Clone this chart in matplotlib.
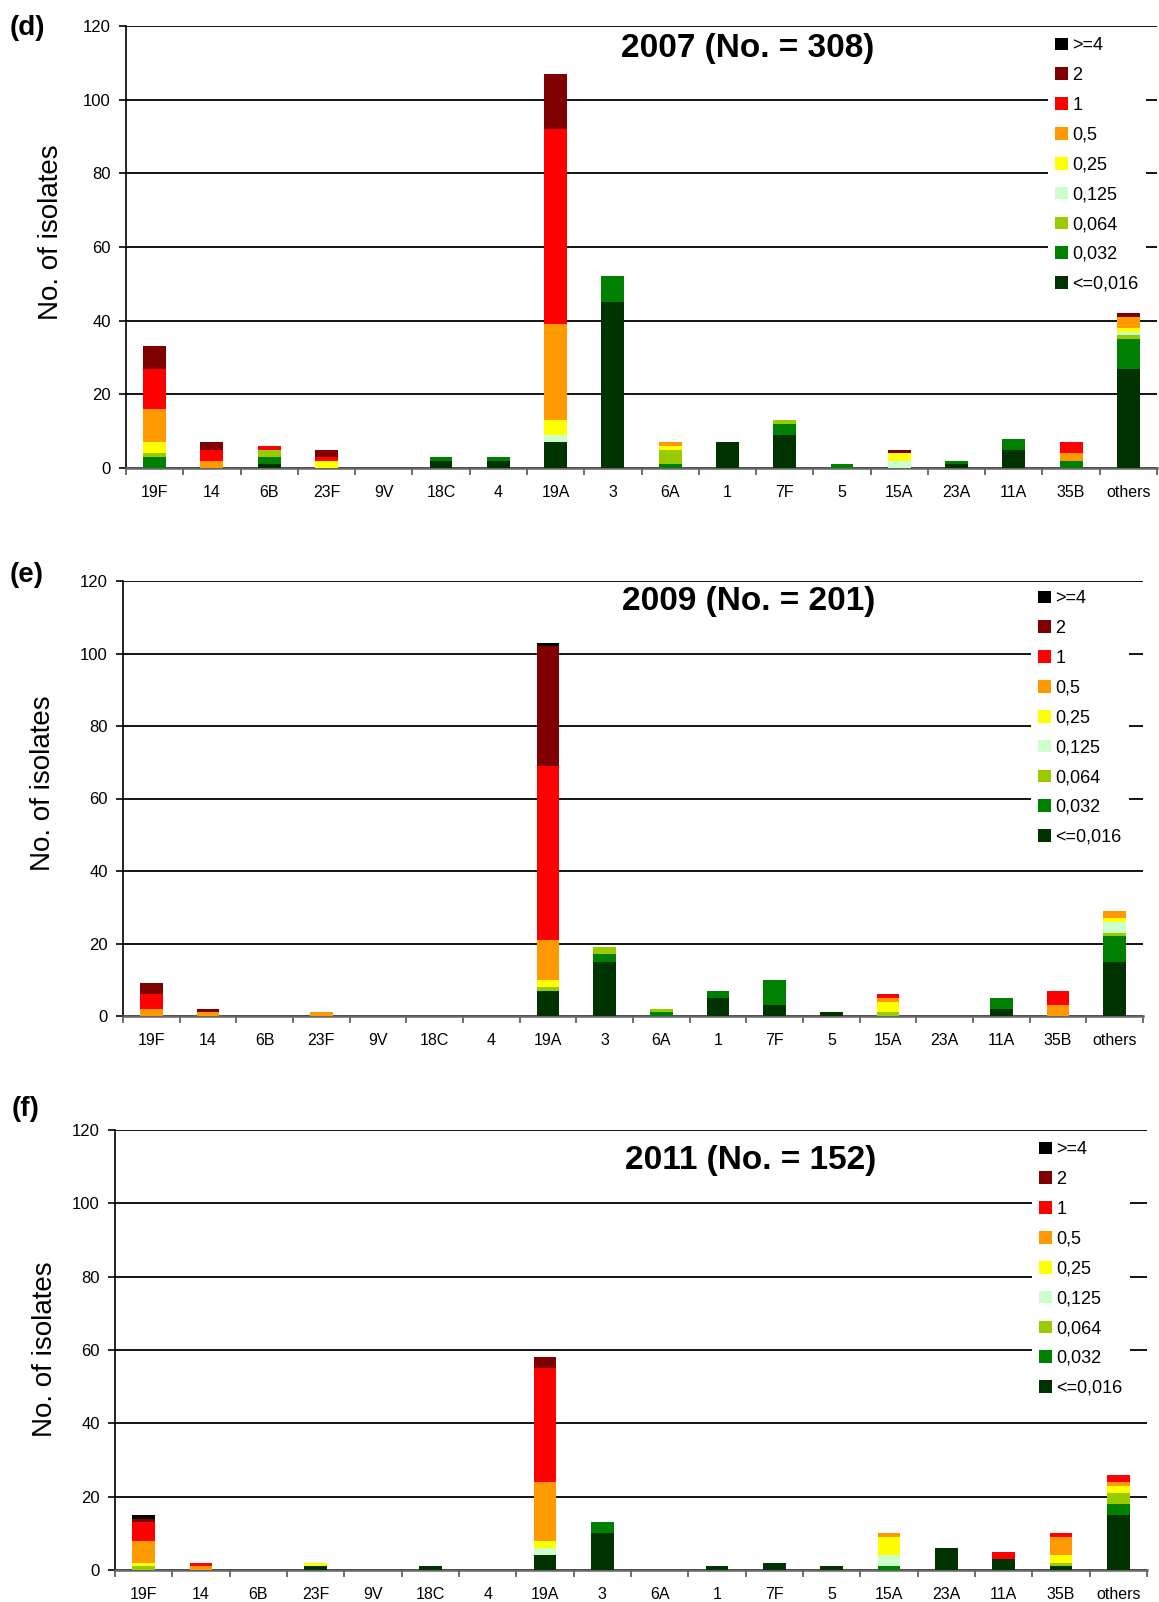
import numpy as np
import matplotlib
matplotlib.use("Agg")
from matplotlib import pyplot as plt
from matplotlib.patches import Patch

plt.rcParams['font.family'] = ['Liberation Sans', 'DejaVu Sans']

# serotypes on the x axis
serotypes = ["19F", "14", "6B", "23F", "9V", "18C", "4", "19A", "3",
             "6A", "1", "7F", "5", "15A", "23A", "11A", "35B", "others"]

# MIC classes, bottom of the stack first
mic_labels = ["<=0,016", "0,032", "0,064", "0,125", "0,25", "0,5", "1", "2", ">=4"]
mic_colors = ["#003300", "#008000", "#99CC00", "#CCFFCC", "#FFFF00",
              "#FF9900", "#FF0000", "#800000", "#000000"]

# 2007 (No. = 308)
y2007_le0016 = [0, 0, 1, 0, 0, 2, 2, 7, 45, 0, 7, 9, 0, 0, 1, 5, 0, 27]
y2007_0032 = [3, 0, 2, 0, 0, 1, 1, 0, 7, 1, 0, 3, 1, 0, 1, 3, 2, 8]
y2007_0064 = [1, 0, 2, 0, 0, 0, 0, 0, 0, 4, 0, 1, 0, 0, 0, 0, 0, 1]
y2007_0125 = [0, 0, 0, 0, 0, 0, 0, 2, 0, 0, 0, 0, 0, 2, 0, 0, 0, 1]
y2007_025 = [3, 0, 0, 2, 0, 0, 0, 4, 0, 1, 0, 0, 0, 2, 0, 0, 0, 1]
y2007_05 = [9, 2, 0, 0, 0, 0, 0, 26, 0, 1, 0, 0, 0, 0, 0, 0, 2, 3]
y2007_1 = [11, 3, 1, 1, 0, 0, 0, 53, 0, 0, 0, 0, 0, 0, 0, 0, 3, 0]
y2007_2 = [6, 2, 0, 2, 0, 0, 0, 15, 0, 0, 0, 0, 0, 1, 0, 0, 0, 1]
y2007_ge4 = [0, 0, 0, 0, 0, 0, 0, 0, 0, 0, 0, 0, 0, 0, 0, 0, 0, 0]

# 2009 (No. = 201)
y2009_le0016 = [0, 0, 0, 0, 0, 0, 0, 7, 15, 0, 5, 3, 1, 0, 0, 2, 0, 15]
y2009_0032 = [0, 0, 0, 0, 0, 0, 0, 0, 2, 1, 2, 7, 0, 0, 0, 3, 0, 7]
y2009_0064 = [0, 0, 0, 0, 0, 0, 0, 1, 2, 1, 0, 0, 0, 1, 0, 0, 0, 1]
y2009_0125 = [0, 0, 0, 0, 0, 0, 0, 0, 0, 0, 0, 0, 0, 0, 0, 0, 0, 3]
y2009_025 = [0, 0, 0, 0, 0, 0, 0, 2, 0, 0, 0, 0, 0, 3, 0, 0, 0, 1]
y2009_05 = [2, 1, 0, 1, 0, 0, 0, 11, 0, 0, 0, 0, 0, 1, 0, 0, 3, 2]
y2009_1 = [4, 0, 0, 0, 0, 0, 0, 48, 0, 0, 0, 0, 0, 1, 0, 0, 4, 0]
y2009_2 = [3, 1, 0, 0, 0, 0, 0, 33, 0, 0, 0, 0, 0, 0, 0, 0, 0, 0]
y2009_ge4 = [0, 0, 0, 0, 0, 0, 0, 1, 0, 0, 0, 0, 0, 0, 0, 0, 0, 0]

# 2011 (No. = 152)
y2011_le0016 = [0, 0, 0, 1, 0, 1, 0, 4, 10, 0, 1, 2, 1, 0, 6, 3, 1, 15]
y2011_0032 = [0, 0, 0, 0, 0, 0, 0, 0, 3, 0, 0, 0, 0, 1, 0, 0, 0, 3]
y2011_0064 = [1, 0, 0, 0, 0, 0, 0, 0, 0, 0, 0, 0, 0, 0, 0, 0, 1, 3]
y2011_0125 = [0, 0, 0, 0, 0, 0, 0, 2, 0, 0, 0, 0, 0, 3, 0, 0, 0, 0]
y2011_025 = [1, 0, 0, 1, 0, 0, 0, 2, 0, 0, 0, 0, 0, 5, 0, 0, 2, 2]
y2011_05 = [6, 1, 0, 0, 0, 0, 0, 16, 0, 0, 0, 0, 0, 1, 0, 0, 5, 1]
y2011_1 = [5, 1, 0, 0, 0, 0, 0, 31, 0, 0, 0, 0, 0, 0, 0, 2, 1, 2]
y2011_2 = [1, 0, 0, 0, 0, 0, 0, 3, 0, 0, 0, 0, 0, 0, 0, 0, 0, 0]
y2011_ge4 = [1, 0, 0, 0, 0, 0, 0, 0, 0, 0, 0, 0, 0, 0, 0, 0, 0, 0]

data_2007 = [y2007_le0016, y2007_0032, y2007_0064, y2007_0125, y2007_025,
             y2007_05, y2007_1, y2007_2, y2007_ge4]
data_2009 = [y2009_le0016, y2009_0032, y2009_0064, y2009_0125, y2009_025,
             y2009_05, y2009_1, y2009_2, y2009_ge4]
data_2011 = [y2011_le0016, y2011_0032, y2011_0064, y2011_0125, y2011_025,
             y2011_05, y2011_1, y2011_2, y2011_ge4]

W, H = 1159, 1602


def px_axes(left, right, top, bottom):
    # pixel box -> figure fraction
    return [left / W, 1 - bottom / H, (right - left) / W, (bottom - top) / H]


def draw_panel(ax, series, title, title_xy, leg_xy, ylab_xy):
    x = np.arange(len(serotypes))
    bottom = np.zeros(len(serotypes))
    for vals, lab, col in zip(series, mic_labels, mic_colors):
        vals = np.array(vals, dtype=float)
        ax.bar(x, vals, 0.4, bottom=bottom, color=col, label=lab, zorder=3)
        bottom += vals

    ax.set_xlim(-0.5, len(serotypes) - 0.5)
    ax.set_ylim(0, 120)
    ax.set_yticks(range(0, 121, 20))
    ax.tick_params(axis='y', labelsize=12, length=5, width=1.2, pad=6, direction='out')
    ax.set_xticks(x)
    ax.set_xticklabels(serotypes)
    ax.tick_params(axis='x', which='major', length=0, labelsize=11.5, pad=12.5)
    ax.set_xticks(np.arange(-0.5, len(serotypes), 1), minor=True)
    ax.tick_params(axis='x', which='minor', length=5, width=1.2, color='#555555')

    ax.grid(axis='y', color='black', linewidth=1.3, zorder=0)
    ax.set_axisbelow(True)
    ax.spines['top'].set_visible(False)
    ax.spines['right'].set_visible(False)
    ax.spines['left'].set_linewidth(1.2)
    ax.spines['bottom'].set_color('#666666')
    ax.spines['bottom'].set_linewidth(1.8)

    ax.set_ylabel("No. of isolates", fontsize=20, va='center')
    ax.yaxis.set_label_coords(*ylab_xy)

    ax.text(title_xy[0], title_xy[1], title, transform=ax.transAxes,
            ha='center', va='center', fontsize=24, fontweight='bold')

    handles = [Patch(facecolor=c, edgecolor='none', label=l)
               for l, c in zip(mic_labels, mic_colors)][::-1]
    leg = ax.legend(handles=handles, loc='upper left',
                    bbox_to_anchor=(leg_xy[0] / W, 1 - leg_xy[1] / H),
                    bbox_transform=fig.transFigure, borderaxespad=0,
                    fontsize=13, handlelength=0.7, handleheight=0.7,
                    handletextpad=0.25, labelspacing=0.71, borderpad=0.4,
                    frameon=True, fancybox=False)
    leg.get_frame().set_facecolor('white')
    leg.get_frame().set_edgecolor('none')
    leg.get_frame().set_alpha(1)


fig = plt.figure(figsize=(W / 100, H / 100), dpi=100)

ax_d = fig.add_axes(px_axes(126, 1157, 26, 468))
draw_panel(ax_d, data_2007, "2007 (No. = 308)", (0.603, 0.948), (1048, 30),
           ((51 - 126) / 1031, 0.533))

ax_e = fig.add_axes(px_axes(123, 1143, 581, 1016))
draw_panel(ax_e, data_2009, "2009 (No. = 201)", (0.613, 0.952), (1031, 583),
           ((43 - 123) / 1020, 0.536))

ax_f = fig.add_axes(px_axes(115, 1147, 1130, 1570))
draw_panel(ax_f, data_2011, "2011 (No. = 152)", (0.616, 0.931), (1032, 1134),
           ((45 - 115) / 1032, 0.502))

fig.text(10 / W, 1 - 28 / H, "(d)", fontsize=20, fontweight='bold', va='center')
fig.text(10 / W, 1 - 575 / H, "(e)", fontsize=20, fontweight='bold', va='center')
fig.text(12 / W, 1 - 1109 / H, "(f)", fontsize=20, fontweight='bold', va='center')

fig.savefig("out.png", dpi=100)
